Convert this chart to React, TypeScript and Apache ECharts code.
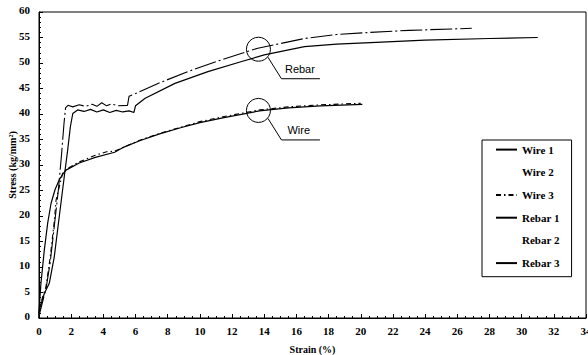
import React, { useEffect, useRef } from "react";
import * as echarts from "echarts";

// Strain (%) vs stress (kg/mm²) readings
const wire1: number[][] = [
  [0, 0.5], [0.02, 2.2], [0.12, 6.8], [0.33, 13.3], [0.54, 18.6], [0.75, 22.5], [1.0, 25.2],
  [1.26, 27.1], [1.5, 28.3], [1.68, 29.0], [2.5, 30.4], [3.5, 31.5], [4.7, 32.5], [5.2, 33.4],
  [6.3, 34.8], [7.5, 36.1], [8.8, 37.3], [10, 38.3], [11.5, 39.3], [13.7, 40.6], [15.5, 41.2],
  [17.5, 41.6], [20.1, 41.9],
];
const wire2: number[][] = [];
const wire3: number[][] = [
  [0, 1], [0.05, 2], [0.23, 4.2], [0.43, 6.1], [0.7, 12], [0.96, 19.2], [1.06, 23.1], [1.26, 25.7],
  [1.47, 28.4], [1.7, 29.2], [2.5, 30.6], [3.5, 31.9], [4.2, 32.6], [4.7, 32.7], [5.2, 33.4],
  [6.3, 34.9], [7.5, 36.2], [8.8, 37.4], [10, 38.5], [11.5, 39.5], [13.7, 40.8], [15.5, 41.4],
  [17.5, 41.8], [20, 42.1],
];
const rebar1: number[][] = [
  [0, 0], [0.05, 1], [0.25, 3.5], [0.45, 6], [0.7, 11], [0.95, 18], [1.2, 25], [1.4, 32],
  [1.55, 38], [1.65, 41.2], [1.8, 41.7], [2.1, 41.4], [2.5, 41.8], [2.9, 41.5], [3.3, 41.9],
  [3.6, 41.5], [3.9, 42.2], [4.2, 41.6], [4.5, 42.0], [4.9, 41.6], [5.5, 41.7], [5.6, 43.5],
  [6.0, 44.0], [7.4, 46.0], [9.5, 48.6], [11.6, 50.9], [13.6, 52.9], [16.5, 54.8], [18.5, 55.6],
  [20.6, 56.0], [23, 56.4], [26.9, 56.8],
];
const rebar2: number[][] = [];
const rebar3: number[][] = [
  [0, 0], [0.02, 1.6], [0.33, 4.8], [0.64, 6.8], [0.95, 12], [1.26, 19.9], [1.57, 27.7],
  [1.78, 32.9], [1.95, 37.5], [2.1, 40.1], [2.4, 40.8], [2.8, 40.5], [3.2, 40.9], [3.6, 40.4],
  [4.0, 40.8], [4.4, 40.3], [4.8, 40.7], [5.2, 40.4], [5.6, 40.6], [5.9, 40.3], [6.0, 41.6],
  [6.6, 43.1], [8.45, 46.0], [10.5, 48.3], [12.6, 50.3], [14.0, 51.6], [16.5, 53.2], [18.5, 53.7],
  [20.6, 54.0], [24, 54.5], [28, 54.8], [31, 55.0],
];

const seriesNames = ["Wire 1", "Wire 2", "Wire 3", "Rebar 1", "Rebar 2", "Rebar 3"];
const seriesData = [wire1, wire2, wire3, rebar1, rebar2, rebar3];

// tick labels
const xTicks = [0, 2, 4, 6, 8, 10, 12, 14, 16, 18, 20, 22, 24, 26, 28, 30, 32, 34];
const yTicks = [0, 5, 10, 15, 20, 25, 30, 35, 40, 45, 50, 55, 60];

// annotation anchors (data coordinates) and labels
const noteLabels = ["Rebar", "Wire"];
const noteAnchors: number[][] = [[13.64, 52.7], [13.64, 40.7]];

const SERIF = "Liberation Serif";
const SANS = "Liberation Sans";

export default function App() {
  const ref = useRef<HTMLDivElement>(null);
  useEffect(() => {
    if (!ref.current) return;
    const chart = echarts.init(ref.current, null, { renderer: "svg" });
    const lineStyles: any[] = [
      { color: "#000", width: 1.2, type: "solid" },
      { color: "#000", width: 1.2, type: "solid", opacity: 0 },
      { color: "#000", width: 1.1, type: [5, 3, 1.5, 3] },
      { color: "#000", width: 1.1, type: [22, 3, 2, 3] },
      { color: "#000", width: 1.2, type: "solid", opacity: 0 },
      { color: "#000", width: 1.2, type: "solid" },
    ];
    const option: any = {
      animation: false,
      grid: {
        left: 39, right: 2, top: 12, bottom: 37,
        containLabel: false,
        outerBoundsMode: "none",
        show: true, borderColor: "#000", borderWidth: 1, backgroundColor: "transparent",
      },
      legend: {
        orient: "vertical",
        left: 482,
        top: 140,
        padding: [4, 12, 8, 13],
        itemGap: 11.5,
        itemWidth: 21,
        itemHeight: 14,
        borderColor: "#000",
        borderWidth: 1,
        backgroundColor: "#fff",
        itemStyle: { opacity: 0 },
        data: seriesNames,
        textStyle: { fontFamily: SERIF, fontWeight: "bold", fontSize: 11, color: "#000" },
      },
      xAxis: {
        type: "value",
        min: 0, max: 34, interval: 2,
        name: "Strain (%)",
        nameLocation: "middle",
        nameGap: 26,
        nameTextStyle: { fontFamily: SERIF, fontWeight: "bold", fontSize: 10, color: "#000" },
        axisLine: { lineStyle: { color: "#000", width: 1 } },
        axisTick: { inside: true, length: 4, lineStyle: { color: "#000" } },
        minorTick: { show: true, splitNumber: 4, length: 2, lineStyle: { color: "#000" } },
        axisLabel: { show: false },
        splitLine: { show: false },
      },
      yAxis: {
        type: "value",
        min: 0, max: 60, interval: 5,
        name: "Stress (kg/mm²)",
        nameLocation: "middle",
        nameGap: 22,
        nameTextStyle: { fontFamily: SERIF, fontWeight: "bold", fontSize: 10, color: "#000" },
        axisLine: { show: true, lineStyle: { color: "#000", width: 1 } },
        axisTick: { show: true, inside: true, length: 4, lineStyle: { color: "#000" } },
        minorTick: { show: true, splitNumber: 5, length: 2, lineStyle: { color: "#000" } },
        axisLabel: { show: false },
        splitLine: { show: false },
      },
      series: seriesNames.map((name, i) => ({
        name,
        type: "line",
        data: seriesData[i],
        showSymbol: false,
        symbol: "none",
        smooth: false,
        lineStyle: lineStyles[i],
        itemStyle: { color: "#000" },
      })),
    };
    chart.setOption(option);

    const graphics: any[] = [];
    const tickFont = "bold 11px \"Liberation Serif\", serif";
    xTicks.forEach((v) => {
      const p = chart.convertToPixel({ gridIndex: 0 }, [v, 0]) as number[];
      graphics.push({
        type: "text",
        x: p[0],
        y: p[1] + 7,
        style: { font: tickFont, fill: "#000", text: String(v), align: "center", verticalAlign: "top" },
      });
    });
    yTicks.forEach((v) => {
      const p = chart.convertToPixel({ gridIndex: 0 }, [0, v]) as number[];
      graphics.push({
        type: "text",
        x: p[0] - 9,
        y: p[1] - 2,
        style: { font: tickFont, fill: "#000", text: String(v), align: "right", verticalAlign: "middle" },
      });
    });
    noteAnchors.forEach((a, i) => {
      const p = chart.convertToPixel({ gridIndex: 0 }, a) as number[];
      const [cx, cy] = p;
      graphics.push({
        type: "circle",
        shape: { cx, cy, r: 12 },
        style: { fill: "none", stroke: "#000", lineWidth: 1 },
        z: 10,
      });
      graphics.push({
        type: "polyline",
        shape: { points: [[cx + 9.5, cy + 8], [cx + 23, cy + 29.5], [cx + 61.5, cy + 29.5]] },
        style: { fill: "none", stroke: "#000", lineWidth: 1 },
        z: 10,
      });
      graphics.push({
        type: "text",
        x: cx + (i === 0 ? 26.5 : 29),
        y: cy + 20,
        style: {
          text: noteLabels[i],
          font: "11px \"Liberation Sans\", Arial, sans-serif",
          fill: "#000",
          verticalAlign: "middle",
        },
        z: 10,
      });
    });
    chart.setOption({ graphic: graphics });
    return () => chart.dispose();
  }, []);
  return (
    <div
      ref={ref}
      style={{ position: "absolute", left: 0, top: 0, width: 588, height: 355, background: "#fff" }}
    />
  );
}
